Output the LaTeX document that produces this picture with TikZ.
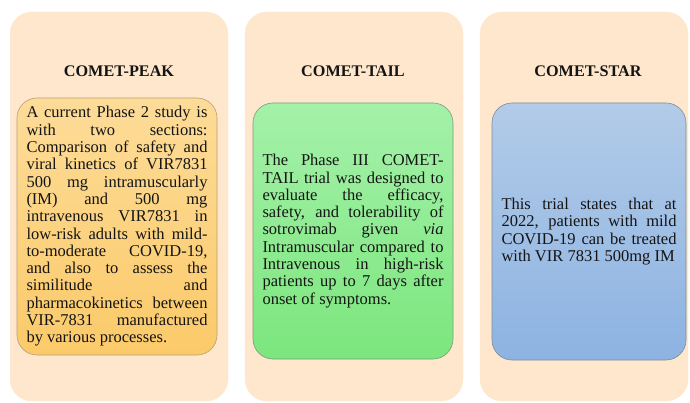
\documentclass[tikz,border=0pt]{standalone}
\usepackage{fontspec}
\setmainfont{Liberation Serif}
\definecolor{outerfill}{HTML}{FEE7CC}
\definecolor{peaktop}{HTML}{FDDC98}
\definecolor{peakbot}{HTML}{FBCA6A}
\definecolor{peakline}{HTML}{B9A074}
\definecolor{tailtop}{HTML}{A4F1A9}
\definecolor{tailbot}{HTML}{7CE67D}
\definecolor{tailline}{HTML}{7E9C7E}
\definecolor{startop}{HTML}{B2CBE8}
\definecolor{starbot}{HTML}{8DB3E2}
\definecolor{starline}{HTML}{7F8B99}
\newcommand{\bodyfnt}{\fontsize{16.5pt}{17.3pt}\selectfont\tolerance=10000\hyphenpenalty=10000\emergencystretch=0pt}
\begin{document}
\begin{tikzpicture}[x=1pt,y=-1pt,
  outerbox/.style={fill=outerfill, draw=outerfill, rounded corners=22pt, inner sep=0pt},
  innerbox/.style={rounded corners=20pt, line width=0.6pt, inner xsep=9.5pt, inner ysep=0pt,
    align=justify, font=\bodyfnt, text=black!92},
  titletext/.style={font=\fontsize{16.2pt}{19pt}\selectfont\bfseries, text=black!92, inner sep=0pt}]
\useasboundingbox (0,0) rectangle (690,403);
% outer panels
\node[outerbox, minimum width=218pt, minimum height=389pt] (o1) at (119,206.5) {};
\node[outerbox, minimum width=218pt, minimum height=389pt] (o2) at (354,206.5) {};
\node[outerbox, minimum width=208pt, minimum height=389pt] (o3) at (584,206.5) {};
% titles
\node[titletext] (t1) at (119,71) {COMET-PEAK};
\node[titletext] (t2) at (353,71) {COMET-TAIL};
\node[titletext] (t3) at (588,71) {COMET-STAR};
% inner boxes
\node[innerbox, draw=peakline, top color=peaktop, bottom color=peakbot,
  minimum width=200pt, minimum height=257pt, text width=181pt] (b1) at (117,226.5) {%
A current Phase 2 study is\linebreak
with two sections:\linebreak
Comparison of safety and\linebreak
viral kinetics of VIR7831\linebreak
500 mg intramuscularly\linebreak
(IM) and 500 mg\linebreak
intravenous VIR7831 in\linebreak
low-risk adults with mild-\linebreak
to-moderate COVID-19,\linebreak
and also to assess the\linebreak
similitude and\linebreak
pharmacokinetics between\linebreak
VIR-7831 manufactured\linebreak
by various processes.};
\node[innerbox, draw=tailline, top color=tailtop, bottom color=tailbot,
  minimum width=200pt, minimum height=256pt, text width=181pt] (b2) at (353,231) {%
The Phase III COMET-\linebreak
TAIL trial was designed to\linebreak
evaluate the efficacy,\linebreak
safety, and tolerability of\linebreak
sotrovimab given \textit{via}\linebreak
Intramuscular compared to\linebreak
Intravenous in high-risk\linebreak
patients up to 7 days after\linebreak
onset of symptoms.};
\node[innerbox, draw=starline, top color=startop, bottom color=starbot,
  minimum width=194pt, minimum height=257pt, text width=175pt] (b3) at (589,231.5) {%
This trial states that at\linebreak
2022, patients with mild\linebreak
COVID-19 can be treated\linebreak
with VIR 7831 500mg IM};
\end{tikzpicture}
\end{document}
